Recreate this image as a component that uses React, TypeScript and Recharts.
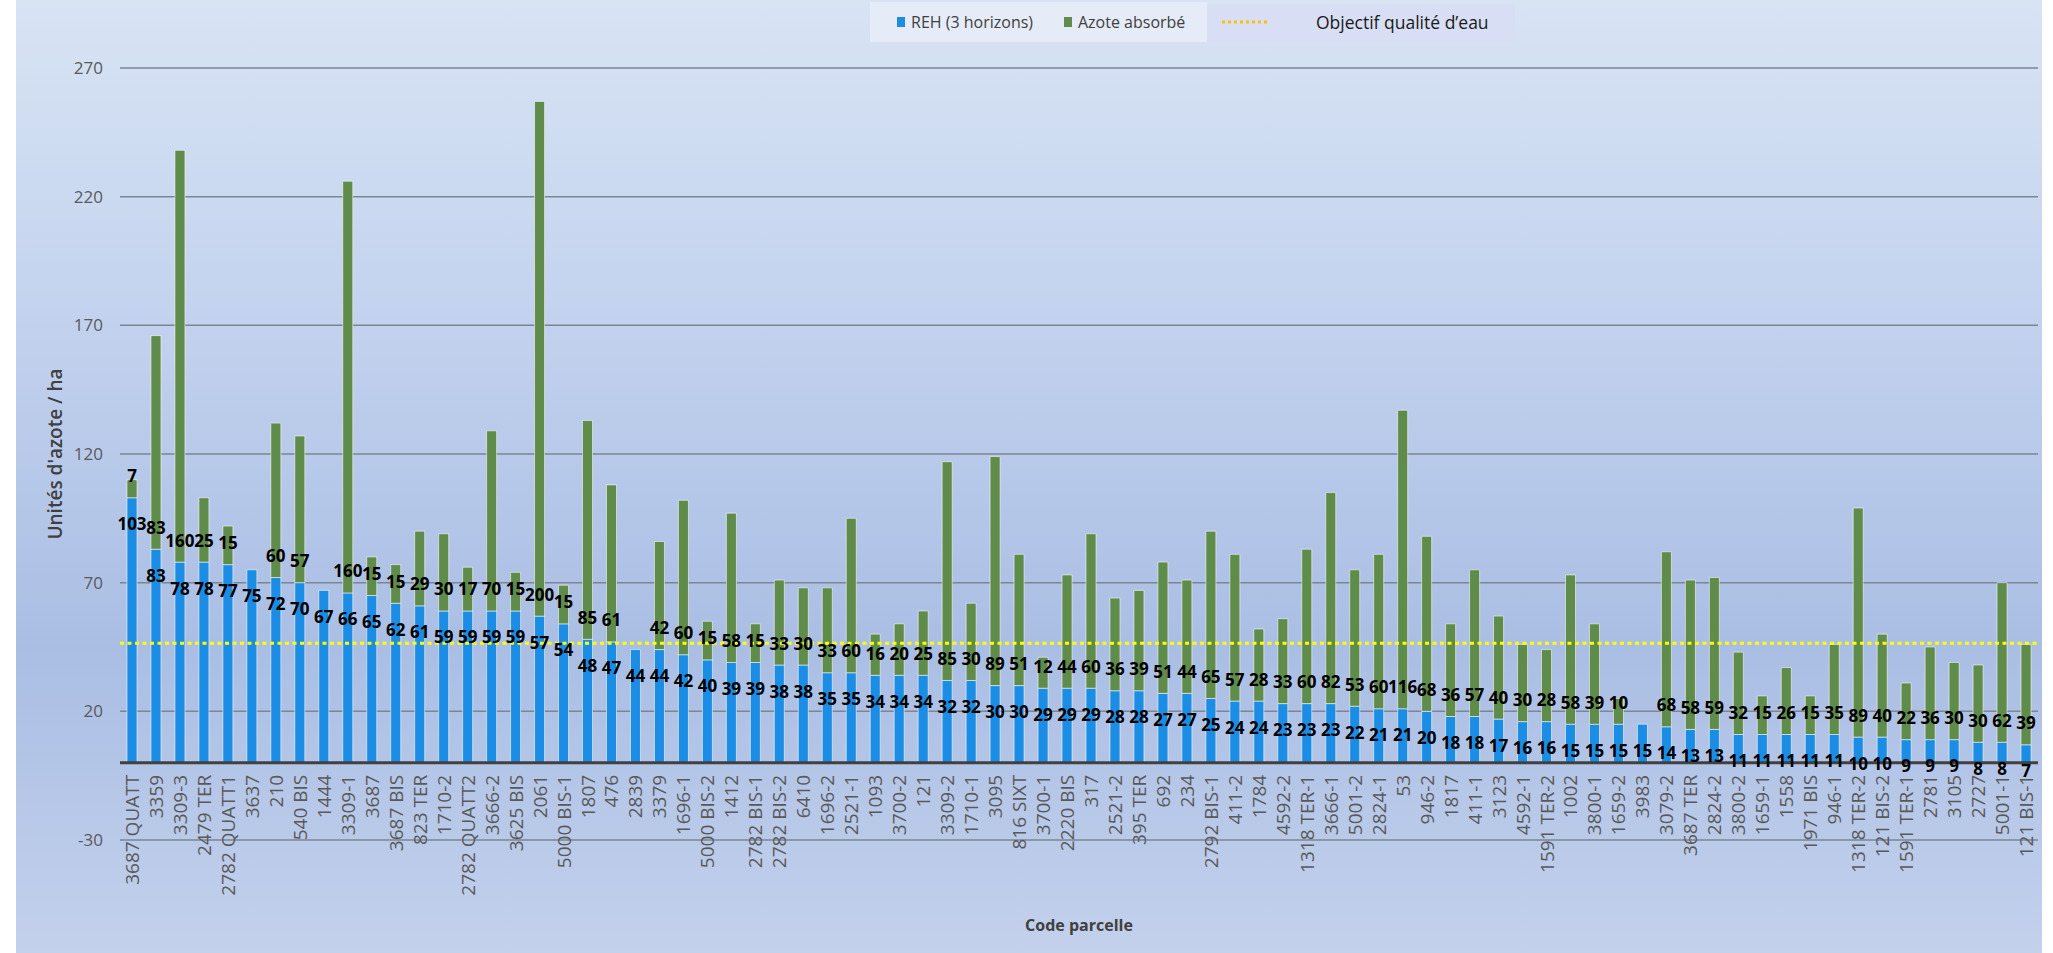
import { BarChart, Bar, XAxis, YAxis, CartesianGrid, ReferenceLine, LabelList } from "recharts"

// Parcel codes, sorted by REH
const parcelles = [
  "3687 QUATT", "3359", "3309-3", "2479 TER", "2782 QUATT1", "3637", "210", "540 BIS", "1444", "3309-1",
  "3687", "3687 BIS", "823 TER", "1710-2", "2782 QUATT2", "3666-2", "3625 BIS", "2061", "5000 BIS-1", "1807",
  "476", "2839", "3379", "1696-1", "5000 BIS-2", "1412", "2782 BIS-1", "2782 BIS-2", "6410", "1696-2",
  "2521-1", "1093", "3700-2", "121", "3309-2", "1710-1", "3095", "816 SIXT", "3700-1", "2220 BIS",
  "317", "2521-2", "395 TER", "692", "234", "2792 BIS-1", "411-2", "1784", "4592-2", "1318 TER-1",
  "3666-1", "5001-2", "2824-1", "53", "946-2", "1817", "411-1", "3123", "4592-1", "1591 TER-2",
  "1002", "3800-1", "1659-2", "3983", "3079-2", "3687 TER", "2824-2", "3800-2", "1659-1", "1558",
  "1971 BIS", "946-1", "1318 TER-2", "121 BIS-2", "1591 TER-1", "2781", "3105", "2727", "5001-1", "121 BIS-1",
]

// REH (3 horizons)
const reh = [
  103, 83, 78, 78, 77, 75, 72, 70, 67, 66,
  65, 62, 61, 59, 59, 59, 59, 57, 54, 48,
  47, 44, 44, 42, 40, 39, 39, 38, 38, 35,
  35, 34, 34, 34, 32, 32, 30, 30, 29, 29,
  29, 28, 28, 27, 27, 25, 24, 24, 23, 23,
  23, 22, 21, 21, 20, 18, 18, 17, 16, 16,
  15, 15, 15, 15, 14, 13, 13, 11, 11, 11,
  11, 11, 10, 10, 9, 9, 9, 8, 8, 7,
]

// Azote absorbé (null = not measured)
const azote: (number | null)[] = [
  7, 83, 160, 25, 15, 0, 60, 57, 0, 160,
  15, 15, 29, 30, 17, 70, 15, 200, 15, 85,
  61, null, 42, 60, 15, 58, 15, 33, 30, 33,
  60, 16, 20, 25, 85, 30, 89, 51, 12, 44,
  60, 36, 39, 51, 44, 65, 57, 28, 33, 60,
  82, 53, 60, 116, 68, 36, 57, 40, 30, 28,
  58, 39, 10, null, 68, 58, 59, 32, 15, 26,
  15, 35, 89, 40, 22, 36, 30, 30, 62, 39,
]

const objectif = 46.5
const yTicks = [-30, 20, 70, 120, 170, 220, 270]

const data = parcelles.map((code, i) => ({ code, reh: reh[i], azote: azote[i] }))

const W = 2053
const H = 953
const margin = { top: 68, right: 15, bottom: 38, left: 15 }
const X_AXIS_H = 75
const Y_AXIS_W = 105
const FONT = "'Open Sans', 'Noto Sans', sans-serif"

// the category axis sits on y = 0, not on the bottom of the plot
const plotTop = margin.top
const plotBottom = H - margin.bottom - X_AXIS_H
const yMin = yTicks[0]
const yMax = yTicks[yTicks.length - 1]
const ZERO_Y = plotTop + ((yMax - 0) / (yMax - yMin)) * (plotBottom - plotTop)

const CodeTick = (props: any) => {
  const { x, payload } = props
  return (
    <text
      transform={`translate(${x},${ZERO_Y + 12}) rotate(-90)`}
      textAnchor="end"
      dominantBaseline="central"
      fontSize={19}
      fontFamily={FONT}
      fill="#595959"
    >
      {payload.value}
    </text>
  )
}

// REH label: just inside the top of the blue segment
const rehLabel = (props: any) => {
  const { x, y, width, value } = props
  if (value == null) return null
  return (
    <text x={x + width / 2} y={y + 26} textAnchor="middle" dominantBaseline="central"
      fontSize={17} fontWeight={700} fontFamily={FONT} fill="#000">
      {value}
    </text>
  )
}

// Azote label: just above the base of the green segment
const azoteLabel = (props: any) => {
  const { x, y, width, height, value } = props
  if (value == null) return null
  return (
    <text x={x + width / 2} y={y + height - 22} textAnchor="middle" dominantBaseline="central"
      fontSize={17} fontWeight={700} fontFamily={FONT} fill="#000">
      {value}
    </text>
  )
}

const abs = (left: number, top: number, extra: React.CSSProperties = {}): React.CSSProperties => ({
  position: "absolute", left, top, ...extra,
})

const Legend = () => (
  <div style={{ position: "absolute", left: 870, top: 2, width: 645, height: 40, fontFamily: FONT, whiteSpace: "nowrap" }}>
    <div style={abs(0, 0, { width: 337, height: 40, background: "#e5ecf7" })} />
    <div style={abs(337, 3, { width: 308, height: 37, background: "#d8def3" })} />
    <span style={abs(27, 15, { width: 8, height: 10, background: "#1c8de4" })} />
    <span style={abs(41, 8, { fontSize: 16, color: "#404040", lineHeight: "24px" })}>REH (3 horizons)</span>
    <span style={abs(194, 15, { width: 8, height: 10, background: "#5f8b4b" })} />
    <span style={abs(208, 8, { fontSize: 16, color: "#404040", lineHeight: "24px" })}>Azote absorbé</span>
    <svg style={abs(352, 15)} width={50} height={10}>
      <line x1={0} y1={5} x2={48} y2={5} stroke="#ffc000" strokeWidth={3} strokeDasharray="3 3" />
    </svg>
    <span style={abs(446, 7, { fontSize: 17.5, color: "#1a1a1a", lineHeight: "26px" })}>Objectif qualité d’eau</span>
  </div>
)

export default function App() {
  return (
    <div style={{ position: "absolute", left: 0, top: 0, width: W, height: H, background: "#fff", overflow: "hidden" }}>
      <div
        style={{
          position: "absolute", left: 16, top: 0, width: 2026, height: H,
          background: "linear-gradient(to bottom, #d8e4f4 0%, #c5d4ef 30%, #aabee4 68%, #c3d1ec 100%)",
        }}
      />
      <div style={{ position: "absolute", left: 0, top: 0 }}>
        <BarChart width={W} height={H} data={data} margin={margin} barSize={10}>
          <CartesianGrid vertical={false} stroke="#7d8593" strokeWidth={1.5} />
          <XAxis
            dataKey="code"
            interval={0}
            height={X_AXIS_H}
            axisLine={false}
            tickLine={false}
            tick={<CodeTick />}
            label={{ value: "Code parcelle", position: "bottom", offset: 5, fontSize: 16, fontWeight: 700, fill: "#404040", fontFamily: FONT }}
          />
          <YAxis
            width={Y_AXIS_W}
            domain={[yMin, yMax]}
            ticks={yTicks}
            axisLine={false}
            tickLine={false}
            tickSize={0}
            tickMargin={17}
            tick={{ fontSize: 17, fill: "#595959", fontFamily: FONT }}
            label={{ value: "Unités d'azote / ha", angle: -90, position: "center", dx: -12, fontSize: 19, fontWeight: 600, fill: "#404040", fontFamily: FONT }}
          />
          <Bar dataKey="reh" stackId="a" fill="#1c8de4" stroke="rgba(255,255,255,0.55)" strokeWidth={1} isAnimationActive={false}>
            <LabelList dataKey="reh" content={rehLabel} />
          </Bar>
          <Bar dataKey="azote" stackId="a" fill="#5f8b4b" stroke="rgba(255,255,255,0.55)" strokeWidth={1} isAnimationActive={false}>
            <LabelList dataKey="azote" content={azoteLabel} />
          </Bar>
          <ReferenceLine y={0} stroke="#404040" strokeWidth={3} />
          <ReferenceLine y={objectif} stroke="#ffff00" strokeWidth={3} strokeDasharray="4 3.5" />
        </BarChart>
      </div>
      <Legend />
    </div>
  )
}
